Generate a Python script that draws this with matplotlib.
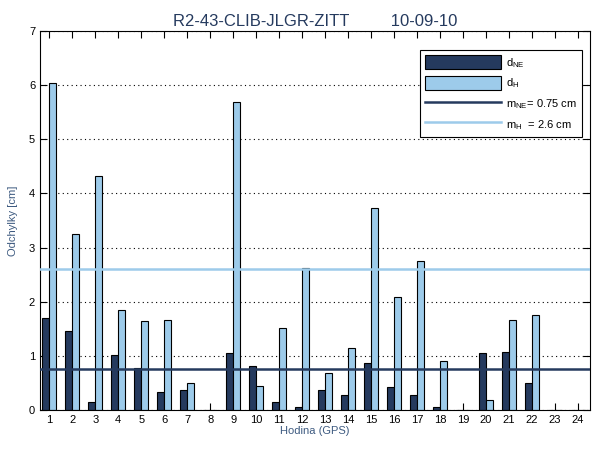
import matplotlib
matplotlib.use('Agg')
import matplotlib.pyplot as plt
import numpy as np

plt.rcParams['font.family'] = ['Liberation Sans', 'DejaVu Sans']
plt.rcParams['mathtext.default'] = 'regular'

hours = list(range(1, 25))
d_ne = [1.70, 1.46, 0.15, 1.02, 0.78, 0.34, 0.37, 0.0, 1.06, 0.81, 0.15, 0.05,
        0.37, 0.27, 0.86, 0.42, 0.27, 0.05, 0.0, 1.06, 1.08, 0.49, 0.0, 0.0]
d_h = [6.05, 3.25, 4.33, 1.85, 1.65, 1.67, 0.49, 0.0, 5.69, 0.45, 1.52, 2.62,
       0.68, 1.14, 3.74, 2.09, 2.75, 0.90, 0.0, 0.18, 1.67, 1.75, 0.0, 0.0]
m_ne = 0.75
m_h = 2.6

dark = '#253a5e'
light = '#9dcbea'
label_col = '#3d5a80'

fig = plt.figure(figsize=(6, 4.5), dpi=100)
ax = fig.add_axes([0.0667, 0.0889, 0.9166, 0.842])

x = np.array(hours)
w = 0.3
b1 = ax.bar(x - w / 2, d_ne, width=w, color=dark, edgecolor='black', linewidth=0.8,
            zorder=2)
b2 = ax.bar(x + w / 2, d_h, width=w, color=light, edgecolor='black', linewidth=0.8,
            zorder=2)
l1 = ax.axhline(m_ne, color=dark, lw=1.8, zorder=3)
l2 = ax.axhline(m_h, color=light, lw=1.8, zorder=3)

ax.set_xlim(0.6, 24.52)
ax.set_ylim(0, 7)
ax.set_xticks(hours)
ax.set_yticks(range(0, 8))
ax.tick_params(direction='in', top=True, right=True, labelsize=8, length=5)
ax.yaxis.grid(True, linestyle=(0, (1, 3)), color='black', lw=0.8, zorder=0)
for s in ax.spines.values():
    s.set_linewidth(0.8)

ax.set_xlabel('Hodina (GPS)', fontsize=8, color=label_col, labelpad=1)
ax.set_ylabel('Odchylky [cm]', fontsize=8, color=label_col, labelpad=8)
ax.set_title('R2-43-CLIB-JLGR-ZITT         10-09-10', fontsize=12,
             color=dark, pad=4)

leg = ax.legend([b1, b2, l1, l2],
                [r'd$_{NE}$', r'd$_{H}$', r'm$_{NE}$= 0.75 cm', r'm$_{H}$  = 2.6 cm'],
                loc='upper right', bbox_to_anchor=(0.9855, 0.95),
                fontsize=8, fancybox=False, framealpha=1,
                edgecolor='black', handlelength=6.8, handleheight=1.6,
                borderaxespad=0, labelspacing=0.55, borderpad=0.45,
                handletextpad=0.5)
leg.get_frame().set_linewidth(0.8)

fig.savefig('out.png', dpi=100)
